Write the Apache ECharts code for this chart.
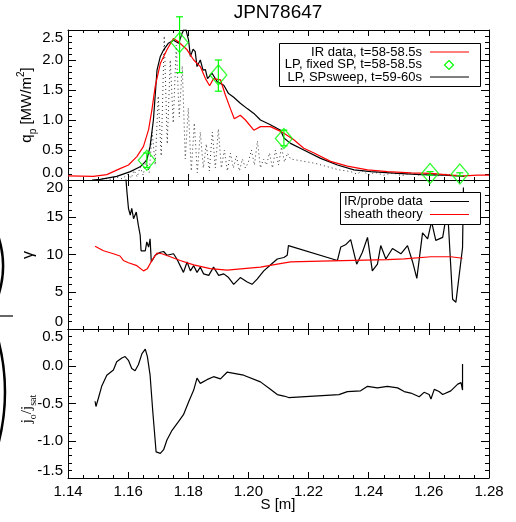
<!DOCTYPE html>
<html>
<head>
<meta charset="utf-8">
<script src="https://cdn.jsdelivr.net/npm/echarts@6/dist/echarts.min.js"></script>
<style>
  html, body { margin: 0; padding: 0; background: #fff; }
  #chart { width: 516px; height: 522px; }
</style>
</head>
<body>
<div id="chart"></div>
<script>
// IR heat flux, t=58-58.5s  [S, q]
const irQ = [[1.140,0.07],[1.1484,0.06],[1.1529,0.09],[1.1573,0.19],[1.1601,0.25],[1.1629,0.39],[1.1651,0.56],[1.1668,0.84],[1.1679,1.17],[1.169,1.56],[1.1707,1.94],[1.1729,2.17],[1.1751,2.36],[1.1768,2.30],[1.1796,2.17],[1.1818,2.0],[1.184,1.89],[1.1857,1.69],[1.1871,1.57],[1.1884,1.69],[1.1907,1.67],[1.1923,1.42],[1.194,1.19],[1.1953,1.02],[1.1973,1.08],[1.199,1.0],[1.2018,0.83],[1.204,0.89],[1.2073,0.89],[1.2107,0.81],[1.2118,0.78],[1.2151,0.67],[1.2184,0.53],[1.2218,0.45],[1.2273,0.31],[1.2329,0.23],[1.2396,0.17],[1.2462,0.14],[1.254,0.12],[1.2607,0.11],[1.2673,0.08],[1.2718,0.07],[1.2762,0.08],[1.28,0.08]];
// LP, SP sweep, t=59-60s
const sweepQ = [[1.148,0.0],[1.1507,0.01],[1.1562,0.06],[1.1607,0.14],[1.164,0.22],[1.1662,0.33],[1.1673,0.56],[1.1684,1.0],[1.1696,1.83],[1.1707,2.06],[1.1718,2.17],[1.1734,2.28],[1.1751,2.33],[1.1768,2.28],[1.1779,2.44],[1.179,2.55],[1.1801,2.33],[1.1807,2.06],[1.1816,2.18],[1.1823,2.14],[1.1829,1.89],[1.184,2.0],[1.1849,1.83],[1.1857,1.84],[1.1864,1.69],[1.1879,1.78],[1.1896,1.64],[1.1918,1.58],[1.1934,1.44],[1.1951,1.38],[1.1973,1.28],[1.1996,1.19],[1.2018,1.11],[1.204,1.0],[1.2073,0.92],[1.2107,0.83],[1.2118,0.70],[1.214,0.61],[1.2184,0.50],[1.224,0.36],[1.2296,0.25],[1.2351,0.17],[1.2407,0.14],[1.2496,0.11],[1.2573,0.09],[1.2651,0.08],[1.2718,0.06]];
// fixed probe raw trace (dotted)
const rawQ = [[1.150,0.00],[1.152,0.03],[1.154,0.01],[1.156,0.05],[1.158,0.02],[1.160,0.10],[1.161,0.03],[1.162,0.16],[1.163,0.05],[1.164,0.22],[1.165,0.08],[1.166,0.35],[1.167,0.12],[1.168,0.80],[1.169,0.25],[1.170,1.40],[1.171,0.40],[1.172,2.40],[1.173,0.60],[1.174,2.00],[1.175,0.95],[1.176,2.25],[1.177,1.05],[1.178,1.90],[1.179,0.35],[1.180,1.20],[1.181,0.15],[1.182,0.95],[1.183,0.12],[1.184,0.80],[1.185,0.20],[1.186,0.60],[1.187,0.15],[1.188,0.80],[1.189,0.20],[1.190,0.85],[1.191,0.20],[1.192,0.50],[1.193,0.15],[1.194,0.45],[1.195,0.20],[1.196,0.40],[1.197,0.15],[1.198,0.35],[1.199,0.20],[1.200,0.30],[1.201,0.50],[1.202,0.25],[1.203,0.65],[1.204,0.20],[1.205,0.35],[1.206,0.25],[1.207,0.45],[1.208,0.20],[1.209,0.50],[1.210,0.25],[1.211,0.55],[1.212,0.30],[1.213,0.45],[1.214,0.35],[1.222,0.28],[1.230,0.17],[1.234,0.14],[1.236,0.10],[1.238,0.15],[1.240,0.08],[1.242,0.13],[1.245,0.08],[1.248,0.12],[1.251,0.07],[1.254,0.12],[1.257,0.08],[1.260,0.11],[1.263,0.07],[1.266,0.10],[1.269,0.07]];
// LP fixed SP, t=58-58.5s : points and error bars [S, low, high]
const fixedQ = [[1.1662,0.33],[1.1771,2.29],[1.19,1.75],[1.2118,0.69],[1.2604,0.11],[1.2703,0.10]];
const fixedErr = [[1.1662,0.21,0.45],[1.1771,1.79,2.72],[1.19,1.48,2.0],[1.2118,0.57,0.83],[1.2604,0.08,0.14],[1.2703,0.07,0.12]];
// gamma
const gammaData = [[1.1589,22],[1.1596,18.4],[1.1601,16.2],[1.1607,15.3],[1.1612,16.2],[1.1618,14.8],[1.1627,15.7],[1.1634,13.9],[1.164,12.6],[1.1643,10.5],[1.1657,10.5],[1.1662,11.7],[1.1668,11.0],[1.1673,12.1],[1.1677,9.0],[1.169,9.9],[1.1707,10.3],[1.1718,10.4],[1.1729,9.9],[1.1751,10.1],[1.1762,9.4],[1.1784,7.6],[1.1796,9.0],[1.1807,7.8],[1.1818,8.5],[1.1829,7.6],[1.184,8.3],[1.1851,7.4],[1.1868,7.2],[1.1884,8.3],[1.1901,7.2],[1.1918,7.4],[1.1934,6.9],[1.1951,6.0],[1.1973,6.9],[1.1996,6.3],[1.2012,6.0],[1.2029,6.7],[1.2051,7.8],[1.2073,8.6],[1.2096,9.4],[1.2118,9.6],[1.2129,9.9],[1.2133,11.2],[1.2296,9.2],[1.2307,11.0],[1.2323,11.3],[1.234,12.0],[1.236,8.7],[1.2379,10.3],[1.2396,12.3],[1.2412,7.8],[1.2429,8.7],[1.244,11.2],[1.2457,9.4],[1.2479,10.8],[1.2507,10.1],[1.2529,11.2],[1.2546,9.0],[1.256,6.8],[1.2579,12.9],[1.2596,12.1],[1.2609,14.4],[1.2623,11.9],[1.2646,12.3],[1.2662,16.2],[1.2679,4.0],[1.269,3.6],[1.2712,10.9],[1.2715,19.0]];
const sheathData = [[1.149,11.1],[1.1518,10.5],[1.1551,10.1],[1.1573,9.8],[1.1584,9.2],[1.1601,8.9],[1.1629,8.5],[1.1651,7.8],[1.1664,8.1],[1.1679,9.2],[1.1696,10.2],[1.1712,10.1],[1.174,9.7],[1.1773,9.2],[1.1818,8.6],[1.1873,8.1],[1.1929,7.9],[1.1984,8.1],[1.204,8.3],[1.2096,8.7],[1.214,9.0],[1.224,9.1],[1.235,9.2],[1.2462,9.3],[1.2518,9.4],[1.2607,9.7],[1.2673,9.7],[1.2712,9.5]];
// j0/jsat
const jData = [[1.149,-0.47],[1.1493,-0.54],[1.1501,-0.43],[1.1512,-0.27],[1.1529,-0.12],[1.1551,-0.05],[1.1562,0.06],[1.1579,0.11],[1.159,0.13],[1.1601,0.08],[1.1612,-0.03],[1.1623,-0.06],[1.1634,0.02],[1.1646,0.17],[1.1657,0.23],[1.1664,0.13],[1.1673,-0.12],[1.1682,-0.61],[1.1693,-1.15],[1.1707,-1.17],[1.1718,-1.12],[1.1729,-0.99],[1.1746,-0.86],[1.1768,-0.74],[1.1784,-0.65],[1.1801,-0.48],[1.1818,-0.32],[1.1829,-0.16],[1.184,-0.23],[1.1862,-0.18],[1.1884,-0.14],[1.1907,-0.17],[1.1929,-0.08],[1.1984,-0.12],[1.204,-0.21],[1.2073,-0.31],[1.2096,-0.38],[1.2118,-0.40],[1.2134,-0.42],[1.2301,-0.38],[1.2307,-0.40],[1.2329,-0.34],[1.2373,-0.33],[1.2396,-0.27],[1.2429,-0.29],[1.2462,-0.27],[1.2496,-0.29],[1.2518,-0.34],[1.254,-0.36],[1.2568,-0.41],[1.2584,-0.35],[1.2601,-0.38],[1.2607,-0.44],[1.2618,-0.31],[1.2634,-0.34],[1.2646,-0.38],[1.2673,-0.33],[1.2696,-0.24],[1.2707,-0.22],[1.2712,-0.32],[1.2712,0.03]];

// axis ranges
const sRange = [1.14, 1.28, 0.02];
const qRange = [0, 2.5, 0.5];
const gRange = [0, 20, 5];
const jRange = [-1.5, 0.5, 0.5];

const FONT = '"Liberation Sans", Helvetica, Arial, sans-serif';
const RED = '#ff0000', GREEN = '#00ff00';

const chart = echarts.init(document.getElementById('chart'), null, { renderer: 'canvas' });

const grids = [
  { left: 68, top: 30, width: 421, height: 150 },
  { left: 68, top: 180, width: 421, height: 149 },
  { left: 68, top: 329, width: 421, height: 149 }
];

const lineAx = { show: true, onZero: false, lineStyle: { color: '#000', width: 1 } };

function xAx(g, pos, labels) {
  return {
    type: 'value', gridIndex: g, position: pos,
    min: sRange[0], max: sRange[1], interval: sRange[2],
    axisLine: lineAx,
    axisTick: { show: true, inside: true, length: 6, lineStyle: { color: '#000' } },
    minorTick: { show: true, splitNumber: 4, length: 3, lineStyle: { color: '#000' } },
    splitLine: { show: false },
    axisLabel: {
      show: labels, margin: 6, color: '#000', fontSize: 15, fontFamily: FONT,
      formatter: v => v.toFixed(2)
    }
  };
}
function yAx(g, pos, r, digits, labels) {
  return {
    type: 'value', gridIndex: g, position: pos,
    min: r[0], max: r[1], interval: r[2],
    axisLine: lineAx,
    axisTick: { show: true, inside: true, length: 8, lineStyle: { color: '#000' } },
    minorTick: { show: true, splitNumber: 5, length: 4, lineStyle: { color: '#000' } },
    splitLine: { show: false },
    axisLabel: {
      show: labels, margin: 5, color: '#000', fontSize: 15, fontFamily: FONT,
      verticalAlignMinLabel: 'bottom', verticalAlignMaxLabel: 'top',
      formatter: v => v.toFixed(digits)
    }
  };
}

function errItem(params, api) {
  const x = api.value(0);
  const lo = api.coord([x, api.value(1)]);
  const hi = api.coord([x, api.value(2)]);
  const st = { stroke: GREEN, lineWidth: 1.2 };
  const c = 3.5;
  return {
    type: 'group',
    children: [
      { type: 'line', shape: { x1: lo[0], y1: lo[1], x2: hi[0], y2: hi[1] }, style: st },
      { type: 'line', shape: { x1: lo[0] - c, y1: lo[1], x2: lo[0] + c, y2: lo[1] }, style: st },
      { type: 'line', shape: { x1: hi[0] - c, y1: hi[1], x2: hi[0] + c, y2: hi[1] }, style: st }
    ]
  };
}

const txt = (x, y, text, extra) => ({
  type: 'text', x: x, y: y, z: 100,
  style: Object.assign({ text: text, fill: '#000', font: '13px ' + FONT }, extra)
});
const seg = (x1, y1, x2, y2, color) => ({
  type: 'line', z: 100, shape: { x1, y1, x2, y2 }, style: { stroke: color, lineWidth: 1.2 }
});

const option = {
  animation: false,
  backgroundColor: '#fff',
  grid: grids,
  xAxis: [xAx(0, 'bottom', false), xAx(0, 'top', false), xAx(1, 'bottom', false), xAx(1, 'top', false), xAx(2, 'bottom', true), xAx(2, 'top', false)],
  yAxis: [
    yAx(0, 'left', qRange, 1, true), yAx(0, 'right', qRange, 1, false),
    yAx(1, 'left', gRange, 0, true), yAx(1, 'right', gRange, 0, false),
    yAx(2, 'left', jRange, 1, true), yAx(2, 'right', jRange, 1, false)
  ],
  series: [
    { type: 'line', xAxisIndex: 0, yAxisIndex: 0, data: rawQ, symbol: 'none',
      lineStyle: { color: '#333', width: 1, type: [1, 3] } },
    { type: 'line', xAxisIndex: 0, yAxisIndex: 0, data: sweepQ, symbol: 'none',
      lineStyle: { color: '#000', width: 1.2 } },
    { type: 'line', xAxisIndex: 0, yAxisIndex: 0, data: irQ, symbol: 'none',
      lineStyle: { color: RED, width: 1.2 } },
    { type: 'custom', xAxisIndex: 0, yAxisIndex: 0, data: fixedErr, renderItem: errItem, z: 5 },
    { type: 'scatter', xAxisIndex: 0, yAxisIndex: 0, data: fixedQ, symbol: 'diamond', symbolSize: [17, 20], z: 6,
      itemStyle: { color: 'rgba(0,0,0,0)', borderColor: GREEN, borderWidth: 1.3 } },
    { type: 'line', xAxisIndex: 2, yAxisIndex: 2, data: gammaData, symbol: 'none',
      lineStyle: { color: '#000', width: 1.2 } },
    { type: 'line', xAxisIndex: 2, yAxisIndex: 2, data: sheathData, symbol: 'none',
      lineStyle: { color: RED, width: 1.2 } },
    { type: 'line', xAxisIndex: 4, yAxisIndex: 4, data: jData, symbol: 'none',
      lineStyle: { color: '#000', width: 1.2 } }
  ],
  graphic: [
    txt(278, 13, 'JPN78647', { font: '19px ' + FONT, align: 'center', verticalAlign: 'middle' }),
    txt(278, 505, 'S [m]', { font: '15px ' + FONT, align: 'center', verticalAlign: 'middle' }),
    // y axis titles
    {
      type: 'text', x: 27, y: 105, rotation: Math.PI / 2, z: 100,
      style: {
        text: '{a|q}{s|p}{a| [MW/m}{u|2}{a|]}', align: 'center', verticalAlign: 'middle',
        rich: {
          a: { fontSize: 15, fontFamily: FONT, fill: '#000', lineHeight: 22, verticalAlign: 'middle' },
          s: { fontSize: 10, fontFamily: FONT, fill: '#000', lineHeight: 22, verticalAlign: 'bottom' },
          u: { fontSize: 10, fontFamily: FONT, fill: '#000', lineHeight: 22, verticalAlign: 'top' }
        }
      }
    },
    { type: 'text', x: 29, y: 255, rotation: Math.PI / 2, z: 100,
      style: { text: 'γ', font: '16px ' + FONT, fill: '#000', align: 'center', verticalAlign: 'middle' } },
    {
      type: 'text', x: 27, y: 409, rotation: Math.PI / 2, z: 100,
      style: {
        text: '{a|j}{s|o}{a|/j}{s|sat}', align: 'center', verticalAlign: 'middle',
        rich: {
          a: { fontSize: 15, fontFamily: '"Liberation Serif", serif', fill: '#000', lineHeight: 22, verticalAlign: 'middle' },
          s: { fontSize: 10, fontFamily: '"Liberation Serif", serif', fill: '#000', lineHeight: 22, verticalAlign: 'bottom' }
        }
      }
    },
    // stray marks at the left edge of the page
    { type: 'arc', shape: { cx: -93, cy: 266, r: 96, startAngle: -0.3, endAngle: 0.3 },
      style: { stroke: '#000', lineWidth: 2.5, fill: 'none' } },
    { type: 'line', shape: { x1: 0, y1: 316, x2: 13, y2: 316 }, style: { stroke: '#000', lineWidth: 1.2 } },
    { type: 'arc', shape: { cx: -200, cy: 392, r: 205, startAngle: -0.32, endAngle: 0.32 },
      style: { stroke: '#000', lineWidth: 2.5, fill: 'none' } },
    // legend, top panel
    { type: 'rect', z: 99, shape: { x: 279.5, y: 43.5, width: 201, height: 43 },
      style: { fill: '#fff', stroke: '#000', lineWidth: 1 } },
    txt(422, 52, 'IR data, t=58-58.5s', { align: 'right', verticalAlign: 'middle' }),
    txt(422, 64.5, 'LP, fixed SP, t=58-58.5s', { align: 'right', verticalAlign: 'middle' }),
    txt(422, 77, 'LP, SPsweep, t=59-60s', { align: 'right', verticalAlign: 'middle' }),
    seg(430, 52, 469, 52, RED),
    { type: 'polygon', z: 100, shape: { points: [[449, 60.5], [453.5, 65], [449, 69.5], [444.5, 65]] },
      style: { fill: 'none', stroke: GREEN, lineWidth: 1.2 } },
    seg(430, 77, 469, 77, '#000'),
    // legend, gamma panel
    { type: 'rect', z: 99, shape: { x: 340.5, y: 192.5, width: 140, height: 32 },
      style: { fill: '#fff', stroke: '#000', lineWidth: 1 } },
    txt(344, 201.5, 'IR/probe data', { align: 'left', verticalAlign: 'middle' }),
    txt(344, 214.5, 'sheath theory', { align: 'left', verticalAlign: 'middle' }),
    seg(430, 201.5, 469, 201.5, '#000'),
    seg(430, 214.5, 469, 214.5, RED)
  ]
};

chart.setOption(option);
</script>
</body>
</html>
